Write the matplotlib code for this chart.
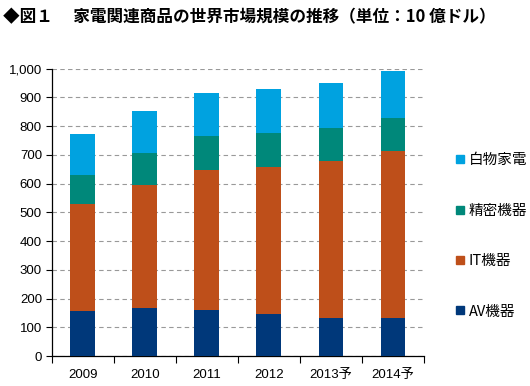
import matplotlib
matplotlib.use('Agg')
from matplotlib import pyplot as plt
from matplotlib.lines import Line2D
import numpy as np

years = ['2009', '2010', '2011', '2012', '2013予', '2014予']
av = [157, 167, 160, 146, 133, 133]
it = [372, 429, 486, 512, 547, 582]
seimitsu = [101, 112, 120, 118, 114, 113]
shiromono = [143, 145, 149, 153, 156, 165]

series = ['AV機器', 'IT機器', '精密機器', '白物家電']
colors = ['#00387A', '#BE4F1A', '#00887A', '#00A2E0']

cjk = ['Noto Sans CJK JP', 'DejaVu Sans']
plt.rcParams['font.family'] = ['Liberation Sans', 'Noto Sans CJK JP', 'DejaVu Sans']

fig = plt.figure(figsize=(5.3, 3.86), dpi=100)
ax = fig.add_axes([0.0975, 0.0777, 0.7025, 0.7443])

x = np.arange(len(years))
bottom = np.zeros(len(years))
for vals, c, name in zip([av, it, seimitsu, shiromono], colors, series):
    ax.bar(x, vals, width=0.4, bottom=bottom, color=c, label=name, zorder=3)
    bottom += np.array(vals)

ax.set_xlim(-0.5, len(years) - 0.5)
ax.set_ylim(0, 1000)
ax.set_yticks(range(0, 1001, 100))
ax.set_yticklabels(['{:,}'.format(v) for v in range(0, 1001, 100)], fontsize=9.5)
ax.yaxis.grid(True, color='#999999', linestyle=(0, (4, 3)), linewidth=0.8, zorder=0)

ax.set_xticks(x)
ax.set_xticklabels(years, fontsize=9.5)
ax.set_xticks(np.arange(-0.5, len(years)), minor=True)
ax.tick_params(axis='x', which='major', length=0, pad=9)
ax.tick_params(axis='x', which='minor', length=5, direction='out', width=0.8)
ax.tick_params(axis='y', length=4, width=0.8, pad=3)
for sp in ['top', 'right']:
    ax.spines[sp].set_visible(False)
for sp in ['left', 'bottom']:
    ax.spines[sp].set_linewidth(0.9)

handles = [Line2D([], [], marker='s', linestyle='none', color=c, markersize=6)
           for c in colors][::-1]
leg = fig.legend(handles, series[::-1], loc='center left',
                 bbox_to_anchor=(0.835, 0.389), frameon=False,
                 handlelength=0.6, handletextpad=0.3, labelspacing=2.5,
                 prop={'family': cjk, 'size': 10.5})

fig.text(0.006, 0.955, '◆図１　 家電関連商品の世界市場規模の推移（単位：10 億ドル）',
         fontsize=12, fontweight='bold', family=cjk, va='center', ha='left')

fig.savefig('out.png', dpi=100)
